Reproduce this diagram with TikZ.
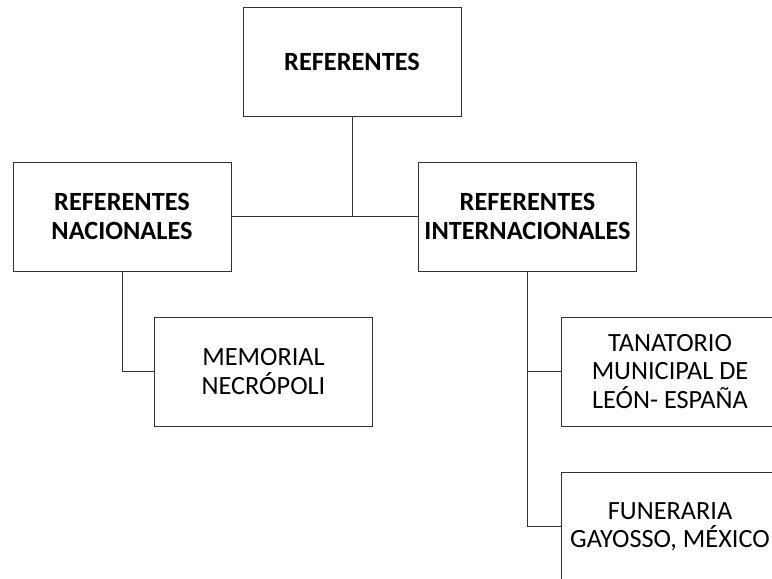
\documentclass[tikz,border=0pt]{standalone}
\usepackage{fontspec}
\setmainfont{Carlito}
\begin{document}
\begin{tikzpicture}[x = 1pt, y = -1pt,
        caja/.style = {draw = black!80, line width = 0.8pt, align = center,
            minimum width = 218pt, minimum height = 109pt, inner sep = 0pt,
            font = \fontsize{26.3}{28.5}\selectfont},
        cajab/.style = {caja, font = \fontsize{26.3}{29}\selectfont\bfseries},
        linea/.style = {draw = black!80, line width = 0.8pt}]
        \useasboundingbox (0, 0) rectangle (772, 579);
        \clip (0, 0) rectangle (772, 579);
        \node [cajab] (ref) at (352, 62) {REFERENTES};
        \node [cajab] (nac) at (122, 216.5) {REFERENTES\\NACIONALES};
        \node [cajab] (int) at (527.5, 216.5) {REFERENTES\\INTERNACIONALES};
        \node [caja] (mem) at (263.5, 371.5) {MEMORIAL\\NECRÓPOLI};
        \node [caja] (tan) at (670, 371.5) {TANATORIO\\MUNICIPAL DE\\LEÓN- ESPAÑA};
        \node [caja] (fun) at (670, 526.5) {FUNERARIA\\GAYOSSO, MÉXICO};
        \draw [linea] (nac.east) -- (int.west);
        \draw [linea] (ref.south) -- (ref.south |- nac.east);
        \draw [linea] (nac.south) |- (mem.west);
        \draw [linea] (int.south) |- (tan.west);
        \draw [linea] (int.south) |- (fun.west);
    \end{tikzpicture}
\end{document}
